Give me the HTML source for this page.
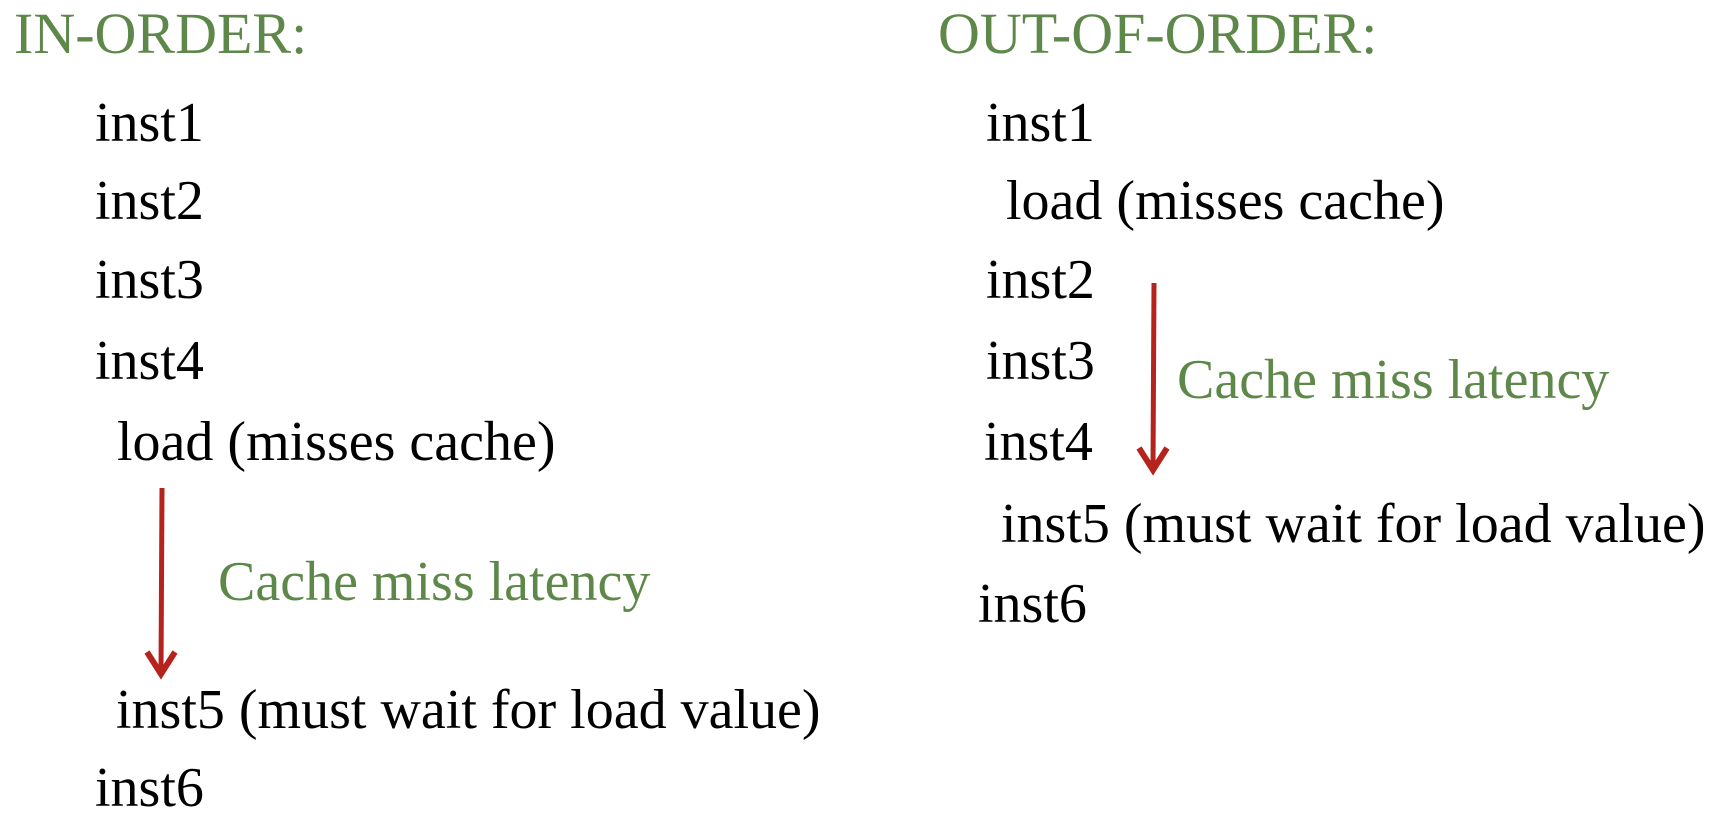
<!DOCTYPE html>
<html><head><meta charset="utf-8"><style>
html,body{margin:0;padding:0;background:#fff;}
svg{display:block;}
text{font-family:"Liberation Serif",serif;}
.h{fill:#5e874a;font-size:58px;}
.g{fill:#5e874a;font-size:56px;}
.b{fill:#000;font-size:56px;}
</style></head><body>
<svg width="1720" height="826" viewBox="0 0 1720 826" xmlns="http://www.w3.org/2000/svg">
<text class="h" x="14" y="53">IN-ORDER:</text>
<text class="b" x="95" y="141">inst1</text>
<text class="b" x="95" y="219">inst2</text>
<text class="b" x="95" y="298">inst3</text>
<text class="b" x="95" y="379">inst4</text>
<text class="b" x="117" y="460">load (misses cache)</text>
<text class="g" x="218" y="600">Cache miss latency</text>
<text class="b" x="116" y="728">inst5 (must wait for load value)</text>
<text class="b" x="95" y="806">inst6</text>
<line x1="162" y1="488" x2="161" y2="672" stroke="#b5241c" stroke-width="5"/>
<polyline points="147,652 161,674 175,652" fill="none" stroke="#b5241c" stroke-width="6" stroke-linejoin="miter"/>

<text class="h" x="938" y="53">OUT-OF-ORDER:</text>
<text class="b" x="986" y="141">inst1</text>
<text class="b" x="1006" y="219">load (misses cache)</text>
<text class="b" x="986" y="298">inst2</text>
<text class="b" x="986" y="379">inst3</text>
<text class="b" x="984" y="460">inst4</text>
<text class="g" x="1177" y="398">Cache miss latency</text>
<text class="b" x="1001" y="542">inst5 (must wait for load value)</text>
<text class="b" x="978" y="622">inst6</text>
<line x1="1154" y1="283" x2="1153" y2="468" stroke="#b5241c" stroke-width="5"/>
<polyline points="1139,448 1153,470 1167,448" fill="none" stroke="#b5241c" stroke-width="6"/>
</svg>
</body></html>
